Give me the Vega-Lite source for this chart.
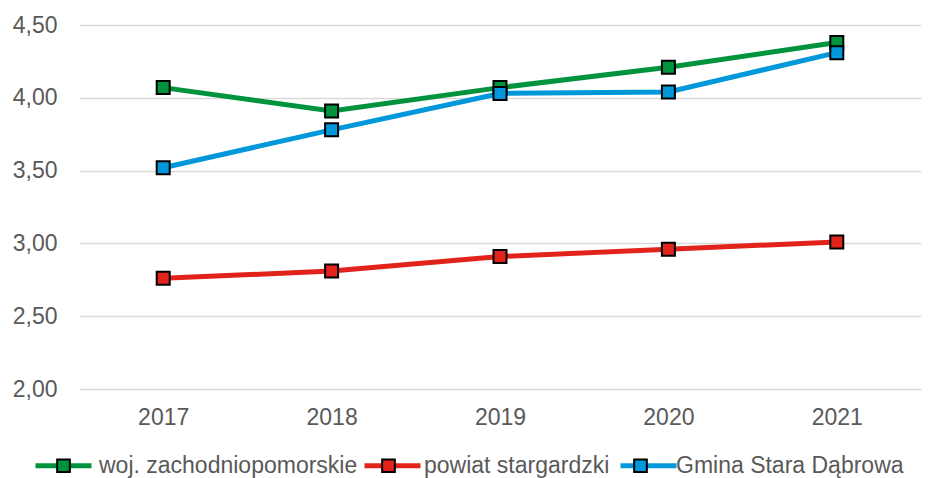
{
  "$schema": "https://vega.github.io/schema/vega-lite/v6.json",
  "width": 842,
  "height": 364,
  "autosize": "none",
  "padding": {"left": 79, "top": 25, "right": 8, "bottom": 89},
  "background": "white",
  "config": {"view": {"stroke": null}, "font": "Liberation Sans"},
  "data": {
    "values": [
      {"year": "2017", "series": "woj. zachodniopomorskie", "value": 4.07},
      {"year": "2018", "series": "woj. zachodniopomorskie", "value": 3.91},
      {"year": "2019", "series": "woj. zachodniopomorskie", "value": 4.07},
      {"year": "2020", "series": "woj. zachodniopomorskie", "value": 4.21},
      {"year": "2021", "series": "woj. zachodniopomorskie", "value": 4.38},
      {"year": "2017", "series": "powiat stargardzki", "value": 2.76},
      {"year": "2018", "series": "powiat stargardzki", "value": 2.81},
      {"year": "2019", "series": "powiat stargardzki", "value": 2.91},
      {"year": "2020", "series": "powiat stargardzki", "value": 2.96},
      {"year": "2021", "series": "powiat stargardzki", "value": 3.01},
      {"year": "2017", "series": "Gmina Stara Dąbrowa", "value": 3.52},
      {"year": "2018", "series": "Gmina Stara Dąbrowa", "value": 3.78},
      {"year": "2019", "series": "Gmina Stara Dąbrowa", "value": 4.03},
      {"year": "2020", "series": "Gmina Stara Dąbrowa", "value": 4.04},
      {"year": "2021", "series": "Gmina Stara Dąbrowa", "value": 4.31}
    ]
  },
  "encoding": {
    "x": {
      "field": "year", "type": "ordinal",
      "scale": {"type": "point", "padding": 0.5},
      "axis": {"title": null, "labelAngle": 0, "domain": false, "ticks": false, "grid": false,
               "labelFontSize": 23, "labelColor": "#595959", "labelPadding": 17}
    },
    "y": {
      "field": "value", "type": "quantitative",
      "scale": {"domain": [2, 4.5], "nice": false, "zero": false},
      "axis": {"title": null, "values": [2, 2.5, 3, 3.5, 4, 4.5],
               "labelExpr": "replace(format(datum.value, '.2f'), '.', ',')",
               "domain": false, "ticks": false, "labelFontSize": 23, "labelColor": "#595959",
               "labelPadding": 22, "gridColor": "#d9d9d9", "gridWidth": 1.5}
    }
  },
  "layer": [
    {
      "mark": {"type": "line", "strokeWidth": 5},
      "encoding": {
        "stroke": {
          "field": "series", "type": "nominal",
          "sort": ["woj. zachodniopomorskie", "powiat stargardzki", "Gmina Stara Dąbrowa"],
          "scale": {"range": ["#00933E", "#E1231B", "#0098DB"]},
          "legend": {
            "title": null, "orient": "none", "direction": "horizontal",
            "legendX": -46, "legendY": 410, "padding": 0,
            "symbolType": "M-1,0H1", "symbolSize": 3136, "symbolStrokeWidth": 5,
            "labelFontSize": 23, "labelColor": "#595959", "labelOpacity": 0, "labelLimit": 0,
            "labelOffset": 5, "columnPadding": -4, "zindex": 0
          }
        }
      }
    },
    {
      "mark": {"type": "point", "shape": "square", "filled": true, "size": 169,
               "stroke": "black", "strokeWidth": 2, "opacity": 1},
      "encoding": {
        "fill": {
          "field": "series", "type": "nominal",
          "scale": {"domain": ["woj. zachodniopomorskie", "powiat stargardzki", "Gmina Stara Dąbrowa"],
                    "range": ["#00933E", "#E1231B", "#0098DB"]},
          "legend": {
            "title": null, "orient": "none", "direction": "horizontal",
            "legendX": -46, "legendY": 410, "padding": 0,
            "symbolType": "M-1,0L-1,0M1,0L1,0M-0.215,-0.215H0.215V0.215H-0.215Z", "symbolSize": 3481,
            "symbolStrokeColor": "black", "symbolStrokeWidth": 2, "symbolOpacity": 1,
            "labelFontSize": 23, "labelColor": "#595959", "labelLimit": 0,
            "labelOffset": 5, "columnPadding": -4, "zindex": 1
          }
        }
      }
    }
  ]
}
